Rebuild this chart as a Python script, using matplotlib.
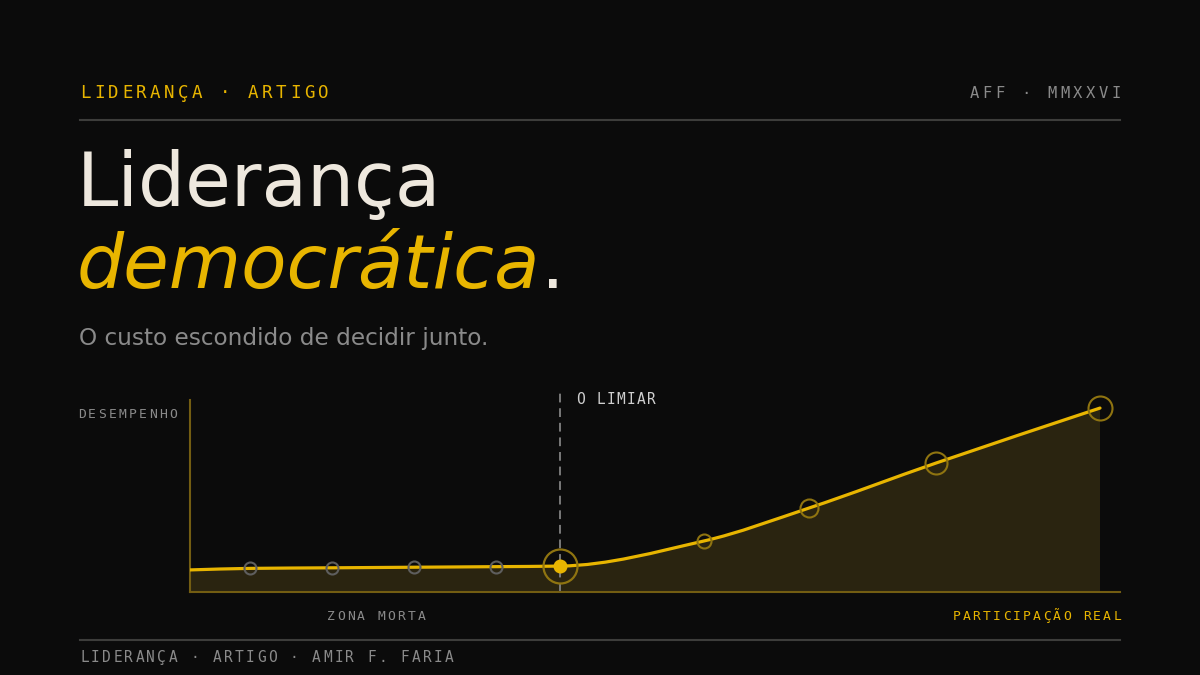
import numpy as np
import matplotlib
matplotlib.use("Agg")
import matplotlib.pyplot as plt
from matplotlib.path import Path
from matplotlib.patches import PathPatch

# data (participação 0-100, desempenho 0-100)
participacao = [0, 6.6, 15.6, 24.6, 33.6, 40.7, 56.5, 68.0, 82.0, 100.0]
desempenho = [11.5, 12.3, 12.6, 12.9, 13.2, 13.5, 26.6, 43.7, 67.2, 95.8]
zona_morta_idx = [1, 2, 3, 4]
limiar_idx = 5
subida_idx = [6, 7, 8, 9]
subida_raio = [7, 9, 11, 12]  # px
limiar_x = participacao[limiar_idx]

BG = "#0b0b0b"
GOLD = "#e8b500"
GOLD_DIM = "#8f7410"
AXIS = "#735d12"
FILL = "#2a2410"
WHITE = "#eee8de"
GRAY = "#8a8a8a"
RULE = "#3d3d3b"

PX = 0.72  # px -> pt at dpi 100


def spaced(ax, x, y, s, size, pitch, color, align="left"):
	total = (len(s) - 1) * pitch + 0.6 * size
	if align == "right":
		x = x - total
	elif align == "center":
		x = x - total / 2.0
	for i, ch in enumerate(s):
		ax.text(x + i * pitch, y, ch, fontsize=size * PX, family="DejaVu Sans Mono",
			color=color, ha="left", va="baseline")


def monotone_path(xs, ys):
	xs = np.asarray(xs, float)
	ys = np.asarray(ys, float)
	h = np.diff(xs)
	d = np.diff(ys) / h
	m = np.zeros(len(xs))
	m[0] = d[0]
	m[-1] = d[-1]
	for i in range(1, len(xs) - 1):
		if d[i - 1] * d[i] <= 0:
			m[i] = 0
		else:
			w1 = 2 * h[i] + h[i - 1]
			w2 = h[i] + 2 * h[i - 1]
			m[i] = (w1 + w2) / (w1 / d[i - 1] + w2 / d[i])
	verts = [(xs[0], ys[0])]
	codes = [Path.MOVETO]
	for i in range(len(xs) - 1):
		verts += [(xs[i] + h[i] / 3, ys[i] + m[i] * h[i] / 3),
			(xs[i + 1] - h[i] / 3, ys[i + 1] - m[i + 1] * h[i] / 3),
			(xs[i + 1], ys[i + 1])]
		codes += [Path.CURVE4] * 3
	return verts, codes


fig = plt.figure(figsize=(12, 6.75), dpi=100, facecolor=BG)
bg = fig.add_axes([0, 0, 1, 1])
bg.set_xlim(0, 1200)
bg.set_ylim(675, 0)
bg.axis("off")
bg.set_facecolor(BG)

# header
spaced(bg, 80, 98, "LIDERANÇA · ARTIGO", 17.5, 14.0, GOLD)
spaced(bg, 1121, 98, "AFF · MMXXVI", 15.5, 12.9, GRAY, align="right")
bg.plot([80, 1120], [120, 120], color=RULE, lw=1.5)

# title
bg.text(77, 206, "Liderança", fontsize=53.5, family="DejaVu Sans", color=WHITE,
	ha="left", va="baseline")
t2 = bg.text(77, 288, "democrática", fontsize=53.5, family="DejaVu Sans", style="italic",
	color=GOLD, ha="left", va="baseline")
fig.canvas.draw()
ext = t2.get_window_extent()
x_end = bg.transData.inverted().transform((ext.x1, ext.y0))[0]
bg.text(x_end + 0.5, 288, ".", fontsize=53.5, family="DejaVu Sans", color=WHITE,
	ha="left", va="baseline")

bg.text(79, 345, "O custo escondido de decidir junto.", fontsize=16.7,
	family="DejaVu Sans", color=GRAY, ha="left", va="baseline")

# footer
bg.plot([80, 1120], [640, 640], color=RULE, lw=1.5)
spaced(bg, 80, 662, "LIDERANÇA · ARTIGO · AMIR F. FARIA", 14.5, 11.05, GRAY)

# chart labels
spaced(bg, 78, 418, "DESEMPENHO", 13, 10.1, GRAY)
spaced(bg, 376, 620, "ZONA MORTA", 13, 10.1, GRAY, align="center")
spaced(bg, 1121, 620, "PARTICIPAÇÃO REAL", 13, 10.05, GOLD, align="right")
spaced(bg, 576, 404, "O LIMIAR", 14.5, 10.2, "#cfcfcf")

# chart
ax = fig.add_axes([190 / 1200, (675 - 592) / 675, 930 / 1200, 200 / 675])
ax.set_facecolor("none")
ax.set_xlim(0, 100 * 930 / 910)
ax.set_ylim(0, 200 / 1.92)
for s in ["top", "right"]:
	ax.spines[s].set_visible(False)
ax.spines["left"].set_color(AXIS)
ax.spines["bottom"].set_color(AXIS)
ax.spines["left"].set_linewidth(1.5)
ax.spines["bottom"].set_linewidth(1.5)
ax.spines["left"].set_bounds(0, 100)
ax.set_xticks([])
ax.set_yticks([])

verts, codes = monotone_path(participacao, desempenho)
fill_verts = verts + [(participacao[-1], 0), (participacao[0], 0), verts[0]]
fill_codes = codes + [Path.LINETO, Path.LINETO, Path.CLOSEPOLY]
ax.add_patch(PathPatch(Path(fill_verts, fill_codes), facecolor=FILL, edgecolor="none", zorder=1))
ax.add_patch(PathPatch(Path(verts, codes), facecolor="none", edgecolor=GOLD, lw=2.3,
	capstyle="round", zorder=3))

ax.plot([limiar_x, limiar_x], [0, 200 / 1.92], color="#7a7a7a", lw=1.4,
	dashes=(4.5, 3), zorder=2, clip_on=False)

for i in zona_morta_idx:
	ax.plot(participacao[i], desempenho[i], marker="o", ms=12 * PX, mfc="none",
		mec="#5e5e5e", mew=1.5, zorder=4, clip_on=False)
for i, r in zip(subida_idx, subida_raio):
	ax.plot(participacao[i], desempenho[i], marker="o", ms=2 * r * PX, mfc="none",
		mec=GOLD_DIM, mew=1.5, zorder=4, clip_on=False)
ax.plot(limiar_x, desempenho[limiar_idx], marker="o", ms=34 * PX, mfc="none",
	mec=GOLD_DIM, mew=1.6, zorder=4, clip_on=False)
ax.plot(limiar_x, desempenho[limiar_idx], marker="o", ms=14 * PX, mfc=GOLD,
	mec="none", zorder=5, clip_on=False)

fig.savefig("out.png", dpi=100, facecolor=BG)
